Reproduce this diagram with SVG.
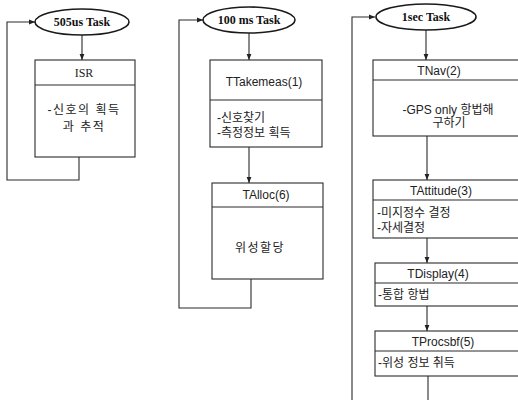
<svg xmlns="http://www.w3.org/2000/svg" width="518" height="400" viewBox="0 0 518 400">
<defs>
<marker id="ah" viewBox="0 0 10 10" refX="10" refY="5" markerWidth="6" markerHeight="6" orient="auto" markerUnits="userSpaceOnUse">
<path d="M0,1 L10,5 L0,9 z" fill="#222"/>
</marker>
<style>
.ln{fill:none;stroke:#2a2a2a;stroke-width:1.1}
.box{fill:#fff;stroke:#2a2a2a;stroke-width:1.1}
.ell{fill:#fff;stroke:#1a1a1a;stroke-width:1.6}
.et{font-family:"Liberation Serif",serif;font-weight:bold;font-size:12px;fill:#111;text-anchor:middle}
.sr{font-family:"Liberation Serif",serif;font-size:12px;fill:#222;text-anchor:middle}
.t{font-family:"Liberation Sans","Noto Sans CJK KR",sans-serif;font-size:12px;fill:#222}
.c{text-anchor:middle}
.w{letter-spacing:1.5px}
</style>
</defs>
<rect width="518" height="400" fill="#fff"/>
<g id="connectors">
<line class="ln" x1="82" y1="35" x2="82" y2="60" marker-end="url(#ah)"/>
<polyline class="ln" points="79,157 79,180 7,180 7,22 35,22" marker-end="url(#ah)"/>
<line class="ln" x1="249" y1="33" x2="249" y2="60" marker-end="url(#ah)"/>
<line class="ln" x1="249" y1="147" x2="249" y2="183" marker-end="url(#ah)"/>
<polyline class="ln" points="251,279 251,308 179,308 179,20 203,20" marker-end="url(#ah)"/>
<line class="ln" x1="426" y1="30" x2="426" y2="60" marker-end="url(#ah)"/>
<line class="ln" x1="427" y1="136" x2="427" y2="180" marker-end="url(#ah)"/>
<line class="ln" x1="427" y1="238" x2="427" y2="263" marker-end="url(#ah)"/>
<line class="ln" x1="427" y1="306" x2="427" y2="331" marker-end="url(#ah)"/>
<line class="ln" x1="428" y1="376" x2="428" y2="400"/>
<polyline class="ln" points="352,400 352,17 375,17" marker-end="url(#ah)"/>
</g>
<g id="task505">
<ellipse class="ell" cx="82" cy="22" rx="47" ry="13"/>
<text class="et" x="82" y="26">505us Task</text>
</g>
<g id="isr">
<rect class="box" x="35" y="60" width="100" height="97"/>
<line class="ln" x1="35" y1="85" x2="135" y2="85"/>
<text class="sr" x="84" y="77">ISR</text>
<text class="t c w" x="84" y="114">-신호의 획득</text>
<text class="t c w" x="84" y="131">과 추적</text>
</g>
<g id="task100">
<ellipse class="ell" cx="249" cy="20" rx="46" ry="13"/>
<text class="et" x="249" y="24">100 ms Task</text>
</g>
<g id="ttakemeas">
<rect class="box" x="210" y="60" width="112" height="87"/>
<line class="ln" x1="210" y1="100" x2="322" y2="100"/>
<text class="t c" x="264" y="86">TTakemeas(1)</text>
<text class="t" x="217" y="122">-신호찾기</text>
<text class="t" x="217" y="137">-측정정보 획득</text>
</g>
<g id="talloc">
<rect class="box" x="212" y="183" width="111" height="96"/>
<line class="ln" x1="212" y1="207" x2="323" y2="207"/>
<text class="t c" x="266" y="199">TAlloc(6)</text>
<text class="t c w" x="260" y="252">위성할당</text>
</g>
<g id="task1sec">
<ellipse class="ell" cx="426" cy="17" rx="50" ry="13"/>
<text class="et" x="426" y="21">1sec Task</text>
</g>
<g id="tnav">
<rect class="box" x="373" y="60" width="160" height="76"/>
<line class="ln" x1="373" y1="80" x2="533" y2="80"/>
<text class="t c" x="439" y="75">TNav(2)</text>
<text class="t c" x="448" y="114">-GPS only 항법해</text>
<text class="t c" x="449" y="127">구하기</text>
</g>
<g id="tattitude">
<rect class="box" x="373" y="180" width="160" height="58"/>
<line class="ln" x1="373" y1="200" x2="533" y2="200"/>
<text class="t c" x="441" y="195">TAttitude(3)</text>
<text class="t" x="377" y="217">-미지정수 결정</text>
<text class="t" x="377" y="232">-자세결정</text>
</g>
<g id="tdisplay">
<rect class="box" x="375" y="263" width="158" height="43"/>
<line class="ln" x1="375" y1="283" x2="533" y2="283"/>
<text class="t c" x="438" y="278">TDisplay(4)</text>
<text class="t" x="378" y="299">-통합 항법</text>
</g>
<g id="tprocsbf">
<rect class="box" x="375" y="331" width="158" height="45"/>
<line class="ln" x1="375" y1="351" x2="533" y2="351"/>
<text class="t c" x="443" y="346">TProcsbf(5)</text>
<text class="t" x="378" y="367">-위성 정보 취득</text>
</g>
</svg>
